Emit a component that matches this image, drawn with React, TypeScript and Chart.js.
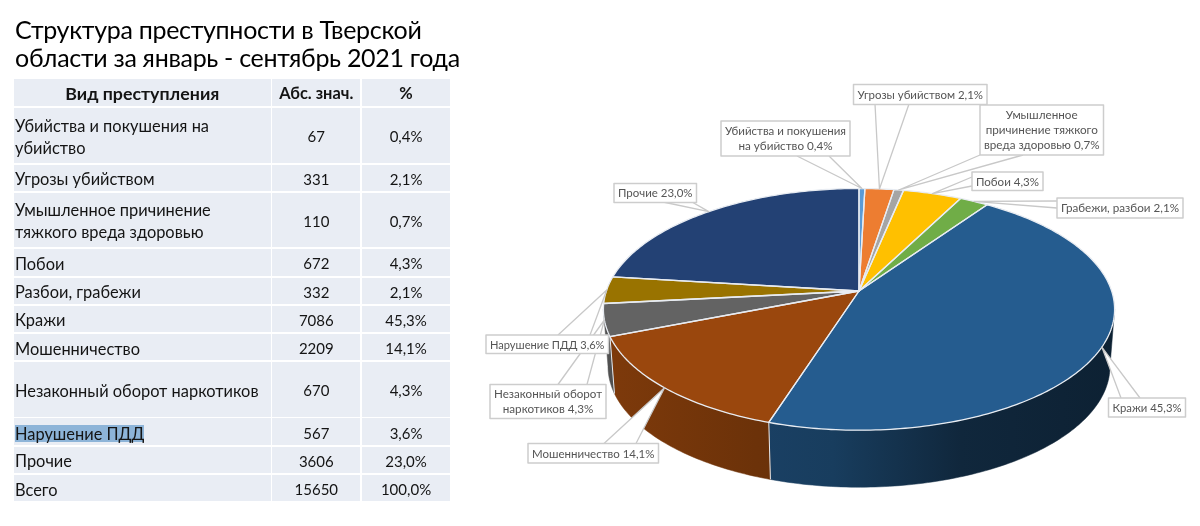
import React, { useEffect, useRef } from "react";
import { Chart, registerables } from "chart.js";

Chart.register(...registerables);

const titleLines = ["Структура преступности в Тверской", "области за январь - сентябрь 2021 года"];
const tableHeader = ["Вид преступления", "Абс. знач.", "%"];
const tableNames = [
  "Убийства и покушения на\nубийство",
  "Угрозы убийством",
  "Умышленное причинение\nтяжкого вреда здоровью",
  "Побои",
  "Разбои, грабежи",
  "Кражи",
  "Мошенничество",
  "Незаконный оборот наркотиков",
  "Нарушение ПДД",
  "Прочие",
  "Всего",
];
const tableCounts = ["67", "331", "110", "672", "332", "7086", "2209", "670", "567", "3606", "15650"];
const tablePercents = ["0,4%", "2,1%", "0,7%", "4,3%", "2,1%", "45,3%", "14,1%", "4,3%", "3,6%", "23,0%", "100,0%"];

const sliceLabels = [
  "Убийства и покушения на убийство",
  "Угрозы убийством",
  "Умышленное причинение тяжкого вреда здоровью",
  "Побои",
  "Грабежи, разбои",
  "Кражи",
  "Мошенничество",
  "Незаконный оборот наркотиков",
  "Нарушение ПДД",
  "Прочие",
];
const sliceValues = [67, 331, 110, 672, 332, 7086, 2209, 670, 567, 3606];
const sliceColors = ["#5B9BD5", "#ED7D31", "#A5A5A5", "#FFC000", "#70AD47", "#255C8F", "#9A470D", "#636363", "#997300", "#234174"];
const calloutText = [
  ["Убийства и покушения", "на убийство 0,4%"],
  ["Угрозы убийством 2,1%"],
  ["Умышленное", "причинение тяжкого", "вреда здоровью 0,7%"],
  ["Побои 4,3%"],
  ["Грабежи, разбои 2,1%"],
  ["Кражи 45,3%"],
  ["Мошенничество 14,1%"],
  ["Незаконный оборот", "наркотиков 4,3%"],
  ["Нарушение ПДД 3,6%"],
  ["Прочие 23,0%"],
];

// layout of the callouts: [slice, x, y, w, h, baseAx, baseAy, baseBx, baseBy]
const calloutBoxes = [
  [0, 721, 121, 129, 35, 797, 156, 829, 156],
  [1, 853.5, 84.5, 133.5, 20, 875, 104, 909, 104],
  [2, 980, 105, 123.5, 50, 980, 155, 1023, 155],
  [3, 972, 172, 71, 18.5, 972, 177, 972, 186],
  [4, 1057, 198, 126, 20, 1057, 201, 1057, 208],
  [5, 1108.5, 398, 77, 19, 1121, 398, 1140, 398],
  [6, 528, 443.5, 130.5, 19.5, 604, 443.5, 636, 443.5],
  [7, 490, 384.5, 116, 34, 558, 384.5, 587, 384.5],
  [8, 486, 335, 122.5, 18.5, 558, 335, 590, 335],
  [9, 614, 183.5, 82.5, 19, 663, 202, 692, 202],
];

// tilt of the pie
const PERSPECTIVE = 0.152;
const X_STRETCH = 2.14;
const DEPTH = 57;
const FONT = '"Lato", "Noto Sans", sans-serif';

const darken = (hex: string, f: number) => {
  const n = parseInt(hex.slice(1), 16);
  const c = (s: number) => Math.round(((n >> s) & 255) * f);
  return `rgb(${c(16)},${c(8)},${c(0)})`;
};

const pie3d = {
  id: "pie3d",
  beforeDatasetsDraw(chart: any) {
    const ctx: CanvasRenderingContext2D = chart.ctx;
    const arcs = chart.getDatasetMeta(0).data as any[];
    const first = arcs[0];
    const cx = first.x;
    const cy = first.y;
    const R = first.outerRadius;
    const project = (a: number) => {
      const w = 1 - PERSPECTIVE * Math.sin(a);
      return [cx + (X_STRETCH * R * Math.cos(a)) / w, cy + (R * Math.sin(a)) / w];
    };
    const bottom = (p: number[]) => [cx + (p[0] - cx) * 0.982, p[1] + DEPTH];
    const steps = (a0: number, a1: number) => {
      const n = Math.max(2, Math.ceil((a1 - a0) * 60));
      return Array.from({ length: n + 1 }, (_, i) => a0 + ((a1 - a0) * i) / n);
    };
    const visA = Math.asin(PERSPECTIVE);
    const visB = Math.PI - visA;

    // side wall
    arcs.forEach((arc) => {
      const a0 = Math.max(arc.startAngle, visA);
      const a1 = Math.min(arc.endAngle, visB);
      if (a1 <= a0) return;
      const base = arc.options.backgroundColor as string;
      const g = ctx.createLinearGradient(603, 0, 1114, 0);
      g.addColorStop(0, darken(base, 0.82));
      g.addColorStop(0.3, darken(base, 0.7));
      g.addColorStop(0.45, darken(base, 0.66));
      g.addColorStop(0.7, darken(base, 0.42));
      g.addColorStop(1, darken(base, 0.36));
      const top = steps(a0, a1).map(project);
      ctx.beginPath();
      top.forEach((p, i) => (i ? ctx.lineTo(p[0], p[1]) : ctx.moveTo(p[0], p[1])));
      top.slice().reverse().map(bottom).forEach((p) => ctx.lineTo(p[0], p[1]));
      ctx.closePath();
      ctx.fillStyle = g;
      ctx.fill();
      ctx.strokeStyle = g;
      ctx.lineWidth = 0.5;
      ctx.stroke();
    });
    // separators on the wall
    arcs.forEach((arc) => {
      const a = arc.endAngle;
      if (a <= visA || a >= visB) return;
      const p = project(a);
      const b = bottom(p);
      ctx.beginPath();
      ctx.moveTo(p[0], p[1]);
      ctx.lineTo(b[0], b[1]);
      ctx.strokeStyle = "#e6e9ee";
      ctx.lineWidth = 1;
      ctx.stroke();
    });

    // top face
    arcs.forEach((arc) => {
      ctx.beginPath();
      ctx.moveTo(cx, cy);
      steps(arc.startAngle, arc.endAngle).map(project).forEach((p) => ctx.lineTo(p[0], p[1]));
      ctx.closePath();
      ctx.fillStyle = arc.options.backgroundColor;
      ctx.fill();
    });
    arcs.forEach((arc) => {
      ctx.beginPath();
      ctx.moveTo(cx, cy);
      steps(arc.startAngle, arc.endAngle).map(project).forEach((p) => ctx.lineTo(p[0], p[1]));
      ctx.closePath();
      ctx.strokeStyle = arc.options.borderColor;
      ctx.lineWidth = arc.options.borderWidth;
      ctx.lineJoin = "round";
      ctx.stroke();
    });

    // callouts
    calloutBoxes.forEach(([i, x, y, w, h, ax, ay, bx, by]) => {
      const arc = arcs[i];
      const tip = project((arc.startAngle + arc.endAngle) / 2);
      ctx.beginPath();
      ctx.moveTo(ax, ay);
      ctx.lineTo(tip[0], tip[1]);
      ctx.lineTo(bx, by);
      ctx.fillStyle = "#ffffff";
      ctx.fill();
      ctx.strokeStyle = "#c8c8c8";
      ctx.lineWidth = 1.3;
      ctx.stroke();
      ctx.fillStyle = "#ffffff";
      ctx.fillRect(x, y, w, h);
      ctx.strokeStyle = "#cdcdcd";
      ctx.lineWidth = 1.5;
      ctx.strokeRect(x, y, w, h);
      const lines = calloutText[i];
      ctx.fillStyle = "#555555";
      ctx.font = `11.7px ${FONT}`;
      ctx.textAlign = "center";
      ctx.textBaseline = "middle";
      const lh = 15;
      lines.forEach((t, k) => {
        ctx.fillText(t, x + w / 2, y + h / 2 + (k - (lines.length - 1) / 2) * lh + 0.5, w - 8);
      });
    });
    return false;
  },
};

const rowHeights = [26.7, 55, 26.3, 54.6, 26.7, 26.3, 26.3, 26.7, 54.4, 26.3, 26.7, 26.3];

export default function App() {
  const ref = useRef<HTMLCanvasElement>(null);
  useEffect(() => {
    const chart = new Chart(ref.current as HTMLCanvasElement, {
      type: "pie",
      data: {
        labels: sliceLabels,
        datasets: [
          {
            data: sliceValues,
            backgroundColor: sliceColors,
            borderColor: "#e8ecf2",
            borderWidth: 1.3,
          },
        ],
      },
      options: {
        responsive: false,
        animation: false,
        layout: { padding: { left: 740.3, right: 222.3, top: 172.3, bottom: 116.3 } },
        plugins: { legend: { display: false }, tooltip: { enabled: false }, title: { display: false } },
      },
      plugins: [pie3d],
    } as any);
    return () => chart.destroy();
  }, []);

  const cell = (content: React.ReactNode, align: string, size: number, shift: number, bold = false) => (
    <div
      style={{
        background: "#E9EDF4",
        display: "flex",
        alignItems: "center",
        justifyContent: align,
        fontWeight: bold ? 700 : 400,
        fontSize: size,
        whiteSpace: "pre-line",
        lineHeight: "22px",
        paddingLeft: align === "flex-start" ? 1 : 0,
        paddingTop: shift,
      }}
    >
      {content}
    </div>
  );

  return (
    <div
      style={{
        position: "absolute",
        left: 0,
        top: 0,
        width: 1200,
        height: 526,
        overflow: "hidden",
        background: "#fff",
        fontFamily: FONT,
        color: "#141414",
        filter: "blur(0.4px)",
      }}
    >
      <canvas ref={ref} width={1200} height={526} style={{ position: "absolute", left: 0, top: 0 }} />
      <div
        style={{
          position: "absolute",
          left: 15,
          top: 15,
          fontSize: 25,
          letterSpacing: -0.3,
          lineHeight: "28px",
          color: "#000",
          whiteSpace: "nowrap",
        }}
      >
        {titleLines.map((t) => (
          <div key={t}>{t}</div>
        ))}
      </div>
      <div
        style={{
          position: "absolute",
          left: 14,
          top: 79.3,
          width: 436,
          display: "grid",
          gridTemplateColumns: "256.5px 88px 87.9px",
          gridTemplateRows: rowHeights.map((h) => `${h}px`).join(" "),
          gap: 1.8,
        }}
      >
        {cell(tableHeader[0], "center", 17.8, 1, true)}
        {cell(tableHeader[1], "center", 16.4, 1, true)}
        {cell(tableHeader[2], "center", 16.4, 1, true)}
        {tableNames.map((name, i) => (
          <React.Fragment key={name}>
            {cell(
              name === "Нарушение ПДД" ? (
                <span style={{ background: "#8DB4D8", lineHeight: "17px" }}>{name}</span>
              ) : (
                name
              ),
              "flex-start",
              16.4,
              3
            )}
            {cell(tableCounts[i], "center", 15, 2)}
            {cell(tablePercents[i], "center", 15, 2)}
          </React.Fragment>
        ))}
      </div>
    </div>
  );
}
